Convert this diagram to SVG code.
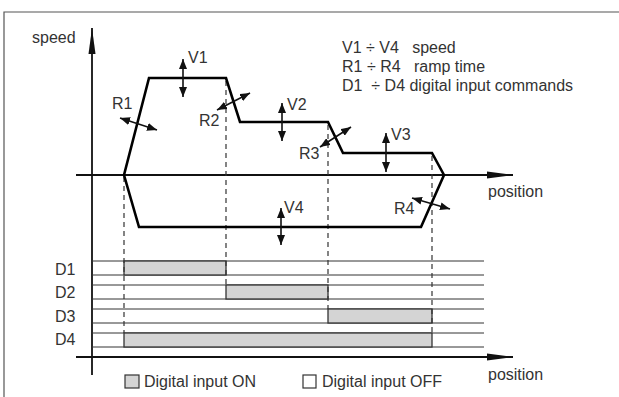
<svg xmlns="http://www.w3.org/2000/svg" width="619" height="397" viewBox="0 0 619 397">
<style>
text{font-family:"Liberation Sans",Arial,Helvetica,sans-serif;font-size:16px;fill:#333}
.frame{stroke:#555;stroke-width:1.2;fill:none}
.axis{stroke:#111;stroke-width:1.8;fill:none}
.profile{stroke:#000;stroke-width:2.6;fill:none;stroke-linejoin:miter}
.dash{stroke:#333;stroke-width:1.2;stroke-dasharray:5,4;fill:none}
.row{stroke:#333;stroke-width:1;fill:none}
.bar{fill:#d4d4d4;stroke:#333;stroke-width:1.3}
.dbl{stroke:#111;stroke-width:1.6;fill:none;marker-start:url(#ah);marker-end:url(#ah)}
.ax{marker-end:url(#axh)}
</style>
<defs>
<marker id="ah" markerUnits="userSpaceOnUse" markerWidth="10" markerHeight="8" refX="10" refY="4" orient="auto-start-reverse" viewBox="0 0 10 8"><path d="M0,0 L10,4 L0,8 z" fill="#111"/></marker>
<marker id="axh" markerUnits="userSpaceOnUse" markerWidth="26" markerHeight="8" refX="26" refY="4" orient="auto" viewBox="0 0 26 8"><path d="M0,0.5 L26,4 L0,7.5 z" fill="#111"/></marker>
</defs>
<g id="frame">
<path class="frame" d="M4,397 V12 H619"/>
</g>
<g id="axes">
<line class="axis ax" x1="92" y1="375" x2="92" y2="28"/>
<line class="axis ax" x1="76" y1="175" x2="513" y2="175"/>
<line class="axis ax" x1="76" y1="357" x2="513" y2="357"/>
</g>
<g id="rows">
<line class="row" x1="92" y1="261" x2="484" y2="261"/>
<line class="row" x1="92" y1="275" x2="484" y2="275"/>
<line class="row" x1="92" y1="285" x2="484" y2="285"/>
<line class="row" x1="92" y1="299" x2="484" y2="299"/>
<line class="row" x1="92" y1="309" x2="484" y2="309"/>
<line class="row" x1="92" y1="323" x2="484" y2="323"/>
<line class="row" x1="92" y1="333" x2="484" y2="333"/>
<line class="row" x1="92" y1="347" x2="484" y2="347"/>
</g>
<g id="bars">
<rect id="D1bar" class="bar" x="124" y="261" width="102" height="14"/>
<rect id="D2bar" class="bar" x="226" y="285" width="102" height="14"/>
<rect id="D3bar" class="bar" x="328" y="309" width="104" height="14"/>
<rect id="D4bar" class="bar" x="124" y="333" width="308" height="14"/>
</g>
<g id="connectors">
<line class="dash" x1="124" y1="177" x2="124" y2="333"/>
<line class="dash" x1="226" y1="81" x2="226" y2="285"/>
<line class="dash" x1="328" y1="125" x2="328" y2="309"/>
<line class="dash" x1="432" y1="156" x2="432" y2="333"/>
<path class="profile" d="M124,175 L149,78 L226,78 L240,122 L328,122 L343,153 L432,153 L444,175 L421,227 L139,227 Z"/>
<line class="dbl" x1="183" y1="59" x2="183" y2="97"/>
<line class="dbl" x1="282" y1="103" x2="282" y2="141"/>
<line class="dbl" x1="386" y1="133" x2="386" y2="172"/>
<line class="dbl" x1="281" y1="208" x2="281" y2="245"/>
<line class="dbl" x1="120" y1="118" x2="157" y2="130"/>
<line class="dbl" x1="217" y1="110" x2="250" y2="93"/>
<line class="dbl" x1="320" y1="147" x2="351" y2="127"/>
<line class="dbl" x1="412" y1="198" x2="450" y2="209"/>
</g>
<g id="labels">
<text x="32" y="43">speed</text>
<text x="188" y="63">V1</text>
<text x="112" y="109">R1</text>
<text x="199" y="126">R2</text>
<text x="287" y="110">V2</text>
<text x="299" y="159">R3</text>
<text x="391" y="140">V3</text>
<text x="284" y="213">V4</text>
<text x="394" y="214">R4</text>
<text x="488" y="197">position</text>
<text x="488" y="380">position</text>
<text x="342" y="53" xml:space="preserve">V1 ÷ V4   speed</text>
<text x="342" y="72" xml:space="preserve">R1 ÷ R4   ramp time</text>
<text x="342" y="91" xml:space="preserve">D1  ÷ D4 digital input commands</text>
<text x="55" y="275">D1</text>
<text x="55" y="298">D2</text>
<text x="55" y="322">D3</text>
<text x="55" y="345">D4</text>
</g>
<g id="legend">
<rect x="125" y="375" width="14" height="13" fill="#d4d4d4" stroke="#333" stroke-width="1.2"/>
<text x="144" y="387">Digital input ON</text>
<rect x="303" y="375" width="13" height="13" fill="#fff" stroke="#333" stroke-width="1.2"/>
<text x="322" y="387">Digital input OFF</text>
</g>
</svg>
